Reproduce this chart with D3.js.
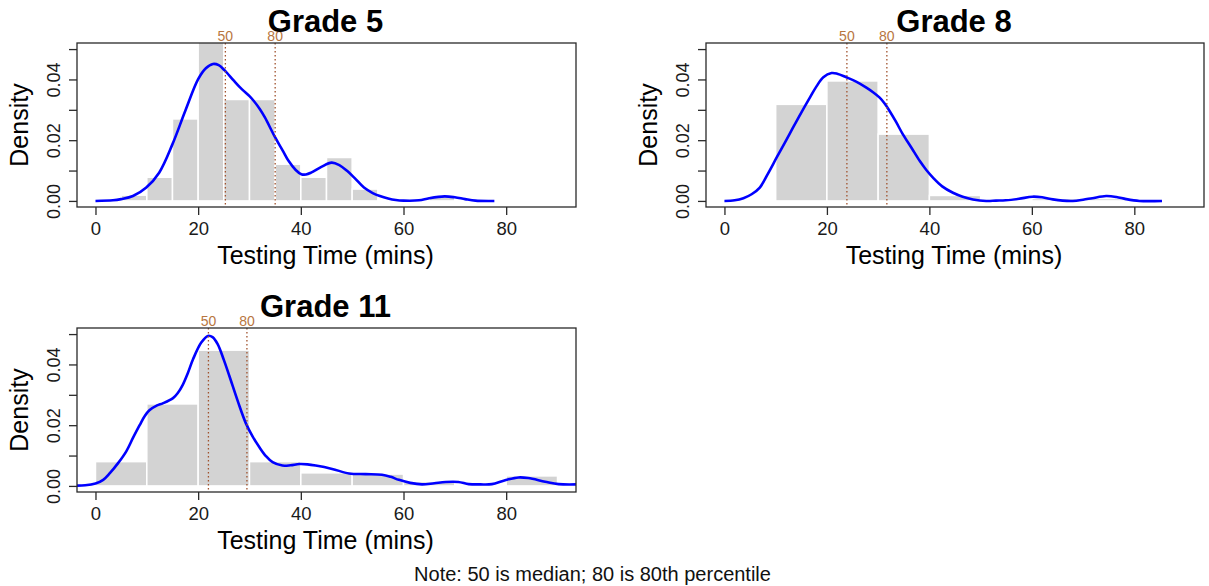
<!DOCTYPE html>
<html>
<head>
<meta charset="utf-8">
<script src="https://cdn.jsdelivr.net/npm/d3@7"></script>
<style>
  html, body { margin: 0; padding: 0; background: #fff; }
  svg { display: block; font-family: "Liberation Sans", Arial, sans-serif; }
</style>
</head>
<body>
<svg id="chart" width="1209" height="586"></svg>
<script>
// ---------- data ----------
const panelTitles = ["Grade 5", "Grade 8", "Grade 11"];
const xTicks = [0, 20, 40, 60, 80];
const yTicks = [0, 0.01, 0.02, 0.03, 0.04, 0.05];
const yTickLabels = ["0.00", "", "0.02", "", "0.04", ""];
const xLabel = "Testing Time (mins)";
const yLabel = "Density";
const noteText = "Note: 50 is median; 80 is 80th percentile";
const pctLabels = ["50", "80"];

// histogram bins: [start, end, density]
const grade5Bins = [
  [5, 10, 0.0019], [10, 15, 0.0078], [15, 20, 0.0270], [20, 25, 0.0570],
  [25, 30, 0.0334], [30, 35, 0.0334], [35, 40, 0.0121], [40, 45, 0.0078],
  [45, 50, 0.0143], [50, 55, 0.0039], [65, 70, 0.0016]
];
const grade8Bins = [
  [0, 10, 0.0005], [10, 20, 0.0318], [20, 30, 0.0395], [30, 40, 0.0220],
  [40, 50, 0.0018], [60, 70, 0.0008], [70, 80, 0.0008]
];
const grade11Bins = [
  [0, 10, 0.0080], [10, 20, 0.0270], [20, 30, 0.0447], [30, 40, 0.0080],
  [40, 50, 0.0043], [50, 60, 0.0039], [60, 70, 0.0014], [70, 80, 0.0005],
  [80, 90, 0.0033]
];

// density curves: [x, density]
const grade5Density = [
  [0,0],[3.4,0.0002],[5,0.0006],[7.3,0.0016],[9.9,0.0044],[12.4,0.0093],[15,0.0187],
  [17.5,0.0297],[20,0.0401],[21.5,0.0437],[22.9,0.0451],[24,0.0447],[25.2,0.0429],
  [27,0.0395],[28.5,0.0368],[30,0.0345],[30.8,0.0330],[32,0.0303],[33,0.0275],
  [35,0.0209],[36.5,0.0165],[37.6,0.0132],[39,0.0102],[40.1,0.0088],[41,0.0087],
  [42,0.0093],[44,0.0112],[46,0.0126],[47.5,0.0118],[49,0.0099],[50.5,0.0075],
  [52.3,0.0044],[54,0.0026],[55.4,0.0016],[57,0.0008],[58.5,0.0003],[60,0.0001],
  [63,0.0002],[65,0.0009],[68,0.0015],[70,0.0012],[72,0.0006],[74,0.0001],[77.7,0]
];
const grade8Density = [
  [0,0],[2,0.0002],[3.7,0.0009],[5.3,0.0022],[6.9,0.0044],[8.5,0.0090],[10.2,0.0143],
  [11.8,0.0192],[13.4,0.0242],[15,0.0291],[16.7,0.0341],[18,0.0378],[19.3,0.0407],
  [20.9,0.0421],[22,0.0419],[23.8,0.0407],[25.8,0.0392],[27.7,0.0373],[29,0.0358],
  [30.3,0.0340],[31.3,0.0320],[32.2,0.0297],[33.5,0.0260],[34.8,0.0220],[36.5,0.0175],
  [38.1,0.0132],[39.4,0.0102],[40.7,0.0077],[42.5,0.0048],[44.6,0.0027],[46.5,0.0014],
  [48.5,0.0005],[51.1,0],[53,0.0001],[54.9,0.0002],[57.5,0.0007],[60.1,0.0014],
  [62,0.0012],[64.1,0.0005],[66,0.0001],[68,0],[70,0.0004],[71.8,0.0009],[74.5,0.0016],
  [76.5,0.0013],[78.4,0.0006],[81,0],[85.4,0]
];
const grade11Density = [
  [-3.6,0.0001],[-2,0.0002],[0,0.0008],[1.5,0.0020],[2.8,0.0042],[4.4,0.0075],[6,0.0114],
  [7.3,0.0158],[8.6,0.0200],[9.6,0.0230],[10.5,0.0249],[12,0.0265],[13.1,0.0272],[15.1,0.0289],
  [16,0.0305],[17,0.0333],[18,0.0372],[19,0.0417],[20.6,0.0472],[21.9,0.0494],
  [22.8,0.0490],[23.8,0.0467],[25,0.0415],[26.1,0.0361],[27.7,0.0280],[29.3,0.0206],
  [30.6,0.0163],[31.9,0.0128],[33.2,0.0098],[34.5,0.0078],[36.4,0.0067],[38,0.0068],
  [39.7,0.0072],[41.3,0.0071],[42.9,0.0067],[46.1,0.0056],[49.4,0.0041],[52.6,0.0039],
  [55.8,0.0037],[57.5,0.0030],[59.1,0.0020],[61.3,0.0010],[63.6,0.0005],[66,0.0009],
  [68.2,0.0013],[70.7,0.0013],[72.7,0.0006],[75,0.0005],[77.2,0.0006],[79.8,0.0019],
  [82.4,0.0028],[84.3,0.0026],[87.6,0.0014],[90.2,0.0006],[93.6,0.0005]
];

// percentiles: [50th, 80th]
const grade5Pct = [25.3, 35.0];
const grade8Pct = [23.9, 31.7];
const grade11Pct = [22.0, 29.5];

// ---------- layout ----------
const panels = [
  { title: panelTitles[0], bins: grade5Bins, dens: grade5Density, pct: grade5Pct, box: [77, 43, 576, 207] },
  { title: panelTitles[1], bins: grade8Bins, dens: grade8Density, pct: grade8Pct, box: [706, 43, 1204, 207] },
  { title: panelTitles[2], bins: grade11Bins, dens: grade11Density, pct: grade11Pct, box: [77, 328, 576, 492] }
];

const svg = d3.select("#chart");
const xDomain = [-3.6, 93.6];
const yDomain = [-0.002, 0.052];

panels.forEach((p, i) => {
  const [x0, y0, x1, y1] = p.box;
  const x = d3.scaleLinear().domain(xDomain).range([x0, x1]);
  const y = d3.scaleLinear().domain(yDomain).range([y1, y0]);
  const g = svg.append("g");

  const clipId = "clip" + i;
  g.append("clipPath").attr("id", clipId)
    .append("rect").attr("x", x0).attr("y", y0).attr("width", x1 - x0).attr("height", y1 - y0);
  const plot = g.append("g").attr("clip-path", `url(#${clipId})`);

  // bars
  plot.selectAll("rect.bar").data(p.bins).enter().append("rect")
    .attr("class", "bar")
    .attr("x", d => x(d[0]))
    .attr("width", d => x(d[1]) - x(d[0]))
    .attr("y", d => y(d[2]))
    .attr("height", d => y(0) - y(d[2]))
    .attr("fill", "#d3d3d3")
    .attr("stroke", "#ffffff")
    .attr("stroke-width", 1.5);

  // density
  const line = d3.line().x(d => x(d[0])).y(d => y(d[1])).curve(d3.curveCatmullRom.alpha(0.5));
  plot.append("path").datum(p.dens)
    .attr("d", line)
    .attr("fill", "none")
    .attr("stroke", "#0000ff")
    .attr("stroke-width", 2.6)
    .attr("stroke-linejoin", "round");

  // percentile lines
  plot.selectAll("line.pct").data(p.pct).enter().append("line")
    .attr("x1", d => x(d)).attr("x2", d => x(d))
    .attr("y1", y0).attr("y2", y1)
    .attr("stroke", "#a0522d")
    .attr("stroke-width", 1.3)
    .attr("stroke-dasharray", "1.5,2.5");

  g.selectAll("text.pct").data(p.pct).enter().append("text")
    .attr("x", d => x(d))
    .attr("y", y0 - 2.5)
    .attr("text-anchor", "middle")
    .attr("font-size", 14)
    .attr("fill", "#b8763f")
    .text((d, j) => pctLabels[j]);

  // box
  g.append("rect")
    .attr("x", x0).attr("y", y0).attr("width", x1 - x0).attr("height", y1 - y0)
    .attr("fill", "none").attr("stroke", "#2a2a2a").attr("stroke-width", 1.3);

  // x axis
  const xa = g.append("g").attr("transform", `translate(0,${y1})`)
    .call(d3.axisBottom(x).tickValues(xTicks).tickSize(8).tickSizeOuter(0).tickFormat(d3.format("d")));
  xa.select(".domain").remove();
  xa.selectAll(".tick line").attr("stroke", "#2a2a2a").attr("stroke-width", 1.3);
  xa.selectAll(".tick text").attr("y", 28).attr("dy", 0)
    .attr("font-size", 18.5).attr("fill", "#1a1a1a").attr("font-family", "Liberation Sans, Arial, sans-serif");

  // y axis
  const ya = g.append("g").attr("transform", `translate(${x0},0)`)
    .call(d3.axisLeft(y).tickValues(yTicks).tickSize(8).tickSizeOuter(0)
      .tickFormat((d, j) => yTickLabels[j]));
  ya.select(".domain").remove();
  ya.selectAll(".tick line").attr("stroke", "#2a2a2a").attr("stroke-width", 1.3);
  ya.selectAll(".tick text")
    .attr("transform", "rotate(-90)")
    .attr("x", 0).attr("y", -17.5).attr("dy", 0)
    .attr("text-anchor", "middle")
    .attr("font-size", 18).attr("fill", "#1a1a1a").attr("font-family", "Liberation Sans, Arial, sans-serif");

  // axis titles
  g.append("text")
    .attr("x", (x0 + x1) / 2 - 1).attr("y", y1 + 56.5)
    .attr("text-anchor", "middle").attr("font-size", 25).attr("fill", "#000")
    .text(xLabel);
  g.append("text")
    .attr("transform", `translate(${x0 - 49.5},${(y0 + y1) / 2}) rotate(-90)`)
    .attr("text-anchor", "middle").attr("font-size", 25).attr("fill", "#000")
    .text(yLabel);

  // title
  g.append("text")
    .attr("x", (x0 + x1) / 2 - 1).attr("y", y0 - 11)
    .attr("text-anchor", "middle").attr("font-size", 31).attr("font-weight", "bold").attr("fill", "#000")
    .text(p.title);
});

svg.append("text")
  .attr("x", 592.5).attr("y", 581)
  .attr("text-anchor", "middle").attr("font-size", 20).attr("fill", "#111")
  .text(noteText);
</script>
</body>
</html>
